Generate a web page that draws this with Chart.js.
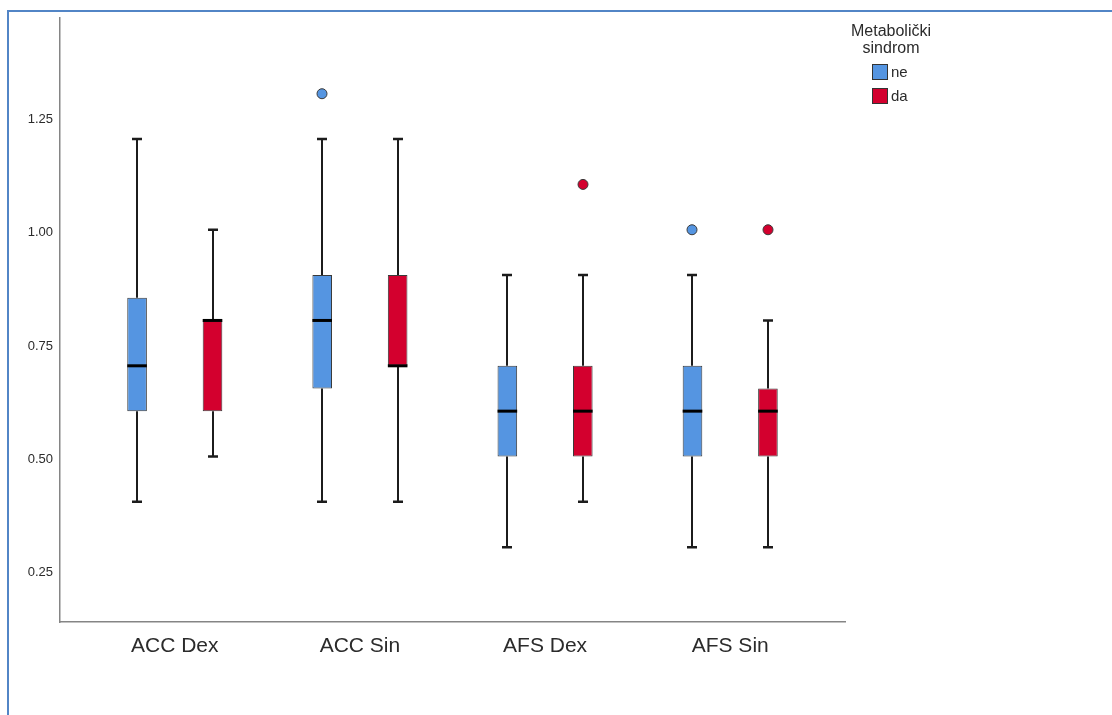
<!DOCTYPE html>
<html>
<head>
<meta charset="utf-8">
<title>Metabolički sindrom</title>
<script src="https://cdn.jsdelivr.net/npm/chart.js@4.4.1/dist/chart.umd.min.js"></script>
<style>
  html, body { margin: 0; padding: 0; background: #fff; }
  #wrap { position: relative; width: 1112px; height: 715px; overflow: hidden; }
  #wrap canvas { position: absolute; left: 0; top: 0; }
  #frame {
    position: absolute; left: 7px; top: 10px; right: 0; bottom: 0;
    border-top: 2px solid #5285c6; border-left: 2px solid #5285c6;
    pointer-events: none;
  }
</style>
</head>
<body>
<div id="wrap">
  <canvas id="boxChart" width="1112" height="715"></canvas>
  <div id="frame"></div>
</div>
<script>
const categories = ['ACC Dex', 'ACC Sin', 'AFS Dex', 'AFS Sin'];
const yTicks = [0.25, 0.5, 0.75, 1.0, 1.25];

// ne
const neLow = [0.4, 0.4, 0.3, 0.3];
const neQ1 = [0.6, 0.65, 0.5, 0.5];
const neMedian = [0.7, 0.8, 0.6, 0.6];
const neQ3 = [0.85, 0.9, 0.7, 0.7];
const neHigh = [1.2, 1.2, 0.9, 0.9];
const neOutliers = [[], [1.3], [], [1.0]];

// da
const daLow = [0.5, 0.4, 0.4, 0.3];
const daQ1 = [0.6, 0.7, 0.5, 0.5];
const daMedian = [0.8, 0.7, 0.6, 0.6];
const daQ3 = [0.8, 0.9, 0.7, 0.65];
const daHigh = [1.0, 1.2, 0.9, 0.8];
const daOutliers = [[], [], [1.1], [1.0]];

const BLUE = '#5595e1';
const RED = '#d3002e';
const INK = '#2b2b2b';

const groups = [
  { label: 'ne', color: BLUE, low: neLow, q1: neQ1, median: neMedian, q3: neQ3, high: neHigh, outliers: neOutliers },
  { label: 'da', color: RED, low: daLow, q1: daQ1, median: daMedian, q3: daQ3, high: daHigh, outliers: daOutliers }
];

Chart.defaults.font.family = "'Liberation Sans', Arial, sans-serif";
Chart.defaults.color = INK;

// whiskers, caps, medians and outlier dots on top of the floating bars
const boxParts = {
  id: 'boxParts',
  afterDatasetsDraw(chart) {
    const ctx = chart.ctx;
    const y = chart.scales.y;
    ctx.save();
    groups.forEach((g, d) => {
      chart.getDatasetMeta(d).data.forEach((bar, i) => {
        const x = Math.round(bar.x);
        const half = bar.width / 2;
        const pLow = y.getPixelForValue(g.low[i]);
        const pQ1 = y.getPixelForValue(g.q1[i]);
        const pQ3 = y.getPixelForValue(g.q3[i]);
        const pHigh = y.getPixelForValue(g.high[i]);
        const pMed = y.getPixelForValue(g.median[i]);

        ctx.strokeStyle = '#1c1c1c';
        ctx.lineWidth = 2;
        ctx.beginPath();
        ctx.moveTo(x, pHigh); ctx.lineTo(x, pQ3);
        ctx.moveTo(x, pQ1); ctx.lineTo(x, pLow);
        ctx.stroke();

        ctx.lineWidth = 2.5;
        ctx.beginPath();
        ctx.moveTo(x - 5, pHigh); ctx.lineTo(x + 5, pHigh);
        ctx.moveTo(x - 5, pLow); ctx.lineTo(x + 5, pLow);
        ctx.stroke();

        ctx.strokeStyle = '#000';
        ctx.lineWidth = 3;
        ctx.beginPath();
        ctx.moveTo(bar.x - half, pMed); ctx.lineTo(bar.x + half, pMed);
        ctx.stroke();

        g.outliers[i].forEach(v => {
          ctx.beginPath();
          ctx.arc(x, y.getPixelForValue(v), 5, 0, Math.PI * 2);
          ctx.fillStyle = g.color;
          ctx.fill();
          ctx.lineWidth = 1;
          ctx.strokeStyle = '#3a3a3a';
          ctx.stroke();
        });
      });
    });
    ctx.restore();
  }
};

// legend block to the right of the plot
const sideLegend = {
  id: 'sideLegend',
  afterDraw(chart) {
    const ctx = chart.ctx;
    const left = chart.chartArea.right;
    ctx.save();
    ctx.fillStyle = INK;
    ctx.textBaseline = 'middle';
    ctx.textAlign = 'center';
    ctx.font = "16px 'Liberation Sans', Arial, sans-serif";
    ctx.fillText('Metabolički', left + 46, 32);
    ctx.fillText('sindrom', left + 46, 49);
    ctx.textAlign = 'left';
    ctx.font = "15px 'Liberation Sans', Arial, sans-serif";
    groups.forEach((g, k) => {
      const top = 64 + k * 24;
      ctx.fillStyle = g.color;
      ctx.fillRect(left + 27, top, 16, 16);
      ctx.strokeStyle = '#333';
      ctx.lineWidth = 1;
      ctx.strokeRect(left + 27.5, top + 0.5, 15, 15);
      ctx.fillStyle = INK;
      ctx.fillText(g.label, left + 46, top + 9);
    });
    ctx.restore();
  }
};

const datasets = groups.map(g => ({
  label: g.label,
  data: categories.map((c, i) => ({ x: i, y: [g.q1[i], g.q3[i]] })),
  backgroundColor: g.color,
  borderColor: '#3a3a3a',
  borderWidth: 1,
  borderSkipped: false,
  categoryPercentage: 0.815,
  barPercentage: 0.26
}));

new Chart(document.getElementById('boxChart'), {
  type: 'bar',
  data: { datasets },
  options: {
    responsive: false,
    animation: false,
    layout: { padding: { top: 18, right: 267, bottom: 0, left: 0 } },
    plugins: {
      legend: { display: false },
      tooltip: { enabled: false }
    },
    scales: {
      x: {
        type: 'linear',
        offset: false,
        min: -0.62,
        max: 3.62,
        afterFit: s => { s.height = 93; },
        afterBuildTicks: s => { s.ticks = categories.map((c, i) => ({ value: i })); },
        grid: { display: false, drawTicks: false },
        border: { color: '#858585', width: 1.5 },
        ticks: {
          padding: 12,
          font: { size: 21 },
          color: INK,
          callback: v => categories[v]
        }
      },
      y: {
        min: 0.135,
        max: 1.467,
        afterFit: s => { s.width = 60; },
        afterBuildTicks: s => { s.ticks = yTicks.map(v => ({ value: v })); },
        grid: { display: false, drawTicks: false },
        border: { color: '#858585', width: 1.5 },
        ticks: {
          padding: 7,
          labelOffset: 3,
          font: { size: 13 },
          color: INK,
          callback: v => v.toFixed(2)
        }
      }
    }
  },
  plugins: [boxParts, sideLegend]
});
</script>
</body>
</html>
